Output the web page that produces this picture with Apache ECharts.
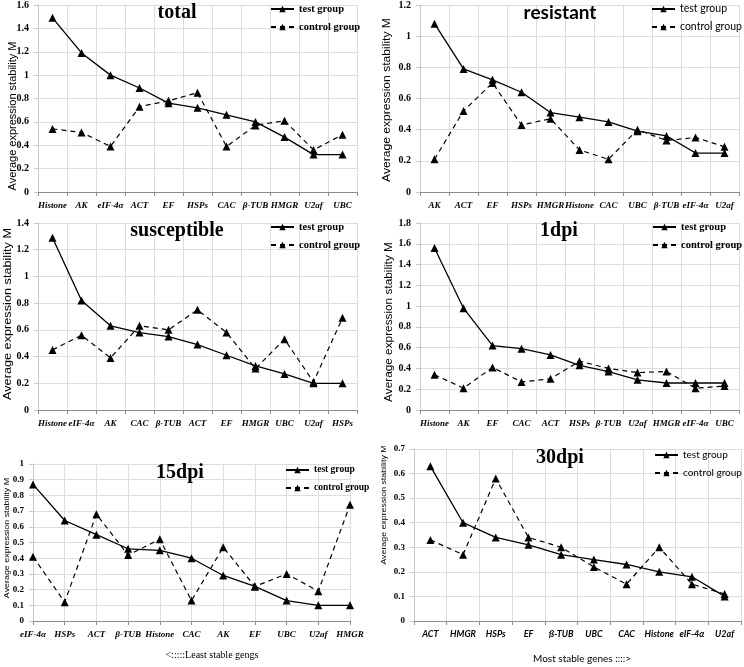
<!DOCTYPE html>
<html><head><meta charset="utf-8">
<script src="https://cdn.jsdelivr.net/npm/echarts@6/dist/echarts.min.js"></script>
<style>html,body{margin:0;padding:0;background:#fff}#c{width:744px;height:667px}</style>
</head><body><div id="c"></div>
<script>
// ---- data ----
const catsTotal = ['Histone','AK','eIF-4α','ACT','EF','HSPs','CAC','β-TUB','HMGR','U2af','UBC'];
const testTotal = [1.49,1.19,1.00,0.89,0.76,0.72,0.66,0.60,0.47,0.32,0.32];
const ctrlTotal = [0.54,0.51,0.39,0.73,0.78,0.85,0.39,0.57,0.61,0.36,0.49];

const catsResistant = ['AK','ACT','EF','HSPs','HMGR','Histone','CAC','UBC','β-TUB','eIF-4α','U2af'];
const testResistant = [1.08,0.79,0.72,0.64,0.51,0.48,0.45,0.39,0.36,0.25,0.25];
const ctrlResistant = [0.21,0.52,0.70,0.43,0.47,0.27,0.21,0.40,0.33,0.35,0.29];

const catsSusceptible = ['Histone','eIF-4α','AK','CAC','β-TUB','ACT','EF','HMGR','UBC','U2af','HSPs'];
const testSusceptible = [1.29,0.82,0.63,0.58,0.55,0.49,0.41,0.33,0.27,0.20,0.20];
const ctrlSusceptible = [0.45,0.56,0.39,0.63,0.60,0.75,0.58,0.31,0.53,0.21,0.69];

const cats1dpi = ['Histone','AK','EF','CAC','ACT','HSPs','β-TUB','U2af','HMGR','eIF-4α','UBC'];
const test1dpi = [1.56,0.98,0.62,0.59,0.53,0.43,0.37,0.29,0.26,0.26,0.26];
const ctrl1dpi = [0.34,0.21,0.41,0.27,0.30,0.47,0.40,0.36,0.37,0.21,0.23];

const cats15dpi = ['eIF-4α','HSPs','ACT','β-TUB','Histone','CAC','AK','EF','UBC','U2af','HMGR'];
const test15dpi = [0.87,0.64,0.55,0.46,0.45,0.40,0.29,0.22,0.13,0.10,0.10];
const ctrl15dpi = [0.41,0.12,0.68,0.42,0.52,0.13,0.47,0.22,0.30,0.19,0.74];

const cats30dpi = ['ACT','HMGR','HSPs','EF','ß-TUB','UBC','CAC','Histone','eIF-4α','U2af'];
const test30dpi = [0.63,0.40,0.34,0.31,0.27,0.25,0.23,0.20,0.18,0.10];
const ctrl30dpi = [0.33,0.27,0.58,0.34,0.30,0.22,0.15,0.30,0.15,0.11];

const yMaxes = [1.6, 1.2, 1.4, 1.8, 1.0, 0.7];
const yIntervals = [0.2, 0.2, 0.2, 0.2, 0.1, 0.1];
const titles = ['total','resistant','susceptible','1dpi','15dpi','30dpi'];
const seriesNames = ['test group','control group'];
const yName = 'Average expression stability M';
const noteLeft = '<:::::Least stable gengs';
const noteRight = 'Most stable genes ::::>';

// ---- layout ----
const SERIF = '"Liberation Serif","Times New Roman",serif';
const SANS = 'Lato,"Open Sans",sans-serif';
const ARIAL = '"Liberation Sans",Arial,sans-serif';

const panels = [
  {cats: catsTotal, test: testTotal, ctrl: ctrlTotal, grid:{left:38,top:5,width:319,height:187}, bg:true,
   xFont:SERIF, titleFont:SERIF, legFont:SERIF, legSize:10.5, title:[177,13,20], leg:{left:270,top:3}, yname:[13,116,10,1.10]},
  {cats: catsResistant, test: testResistant, ctrl: ctrlResistant, grid:{left:420,top:5,width:319,height:187}, bg:true,
   xFont:SERIF, titleFont:SANS, legFont:SANS, legSize:10.5, title:[560,13,19], leg:{left:651,top:3}, yname:[387,100,10,1.21]},
  {cats: catsSusceptible, test: testSusceptible, ctrl: ctrlSusceptible, grid:{left:38,top:223,width:319,height:187}, bg:true,
   xFont:SERIF, titleFont:SERIF, legFont:SERIF, legSize:10.5, title:[177,231,20], leg:{left:270,top:221}, yname:[8,314,10,1.27]},
  {cats: cats1dpi, test: test1dpi, ctrl: ctrl1dpi, grid:{left:420,top:223,width:319,height:187}, bg:true,
   xFont:SERIF, titleFont:SERIF, legFont:SERIF, legSize:10.5, title:[559,231,20], leg:{left:652,top:221}, yname:[389,322,10,1.18]},
  {cats: cats15dpi, test: test15dpi, ctrl: ctrl15dpi, grid:{left:33,top:464,width:317,height:157}, bg:false,
   xFont:SERIF, titleFont:SERIF, legFont:SERIF, legSize:9.5, title:[180,473,20], leg:{left:285,top:464}, yname:[7,538,8,1.11]},
  {cats: cats30dpi, test: test30dpi, ctrl: ctrl30dpi, grid:{left:414,top:449,width:327,height:172}, bg:true,
   xFont:SANS, titleFont:SERIF, legFont:SANS, legSize:10, title:[560,458,20], leg:{left:654,top:449}, yname:[384,505,8,1.10]}
];

const grids = [], xAxes = [], yAxes = [], series = [], legends = [], graphics = [];
panels.forEach((p, i) => {
  grids.push(Object.assign({containLabel:false}, p.grid));
  xAxes.push({
    type:'category', gridIndex:i, data:p.cats, boundaryGap:p.bg,
    axisLine:{lineStyle:{color:'#8c8c8c', width:1}},
    axisTick:{show:true, length:4, alignWithLabel:false, lineStyle:{color:'#8c8c8c'}},
    axisLabel:{interval:0, margin:9, color:'#000', fontFamily:p.xFont, fontStyle:'italic', fontWeight:'bold', fontSize:9},
    splitLine:{show:true, lineStyle:{color:'#dcdcdc', width:1}}
  });
  yAxes.push({
    type:'value', gridIndex:i, min:0, max:yMaxes[i], interval:yIntervals[i],
    axisLine:{show:true, lineStyle:{color:'#c8c8c8'}},
    axisTick:{show:true, length:4, lineStyle:{color:'#c8c8c8'}},
    axisLabel:{margin:9, color:'#000', fontFamily:SERIF, fontWeight:'bold', fontSize:(i>=4?9:10)},
    splitLine:{show:true, lineStyle:{color:'#dcdcdc', width:1}}
  });
  series.push({
    name:seriesNames[0], type:'line', xAxisIndex:i, yAxisIndex:i, data:p.test,
    symbol:'triangle', symbolSize:8, itemStyle:{color:'#000'},
    lineStyle:{color:'#000', width:1.3, type:'solid'}
  });
  series.push({
    name:seriesNames[1], type:'line', xAxisIndex:i, yAxisIndex:i, data:p.ctrl,
    symbol:'triangle', symbolSize:8, itemStyle:{color:'#000'},
    lineStyle:{color:'#000', width:1.2, type:[5,4]}
  });
  legends.push({
    orient:'vertical', left:p.leg.left, top:p.leg.top, data:seriesNames,
    itemWidth:23, itemHeight:8, itemGap:6, padding:0, selectedMode:false,
    textStyle:{fontFamily:p.legFont, fontWeight:(p.legFont===SERIF)?'bold':'normal', fontSize:p.legSize, color:'#000', lineHeight:12}
  });
  graphics.push({
    type:'text', x:p.title[0], y:p.title[1], silent:true, z:100,
    style:{text:titles[i], font:'bold '+p.title[2]+'px '+p.titleFont, textAlign:'center', textVerticalAlign:'middle', fill:'#000'}
  });
  graphics.push({
    type:'text', x:p.yname[0], y:p.yname[1], rotation:Math.PI/2, scaleX:p.yname[3], silent:true, z:100,
    style:{text:yName, font:p.yname[2]+'px '+ARIAL, textAlign:'center', textVerticalAlign:'middle', fill:'#000'}
  });
});
graphics.push({type:'text', x:212, y:655, silent:true, z:100,
  style:{text:noteLeft, font:'10px '+SERIF, textAlign:'center', textVerticalAlign:'middle', fill:'#000'}});
graphics.push({type:'text', x:582, y:659, silent:true, z:100,
  style:{text:noteRight, font:'10px '+SANS, textAlign:'center', textVerticalAlign:'middle', fill:'#000'}});

const chart = echarts.init(document.getElementById('c'), null, {renderer:'canvas'});
chart.setOption({
  animation:false, backgroundColor:'#fff',
  grid:grids, xAxis:xAxes, yAxis:yAxes, series:series, legend:legends, graphic:graphics
});
</script></body></html>
